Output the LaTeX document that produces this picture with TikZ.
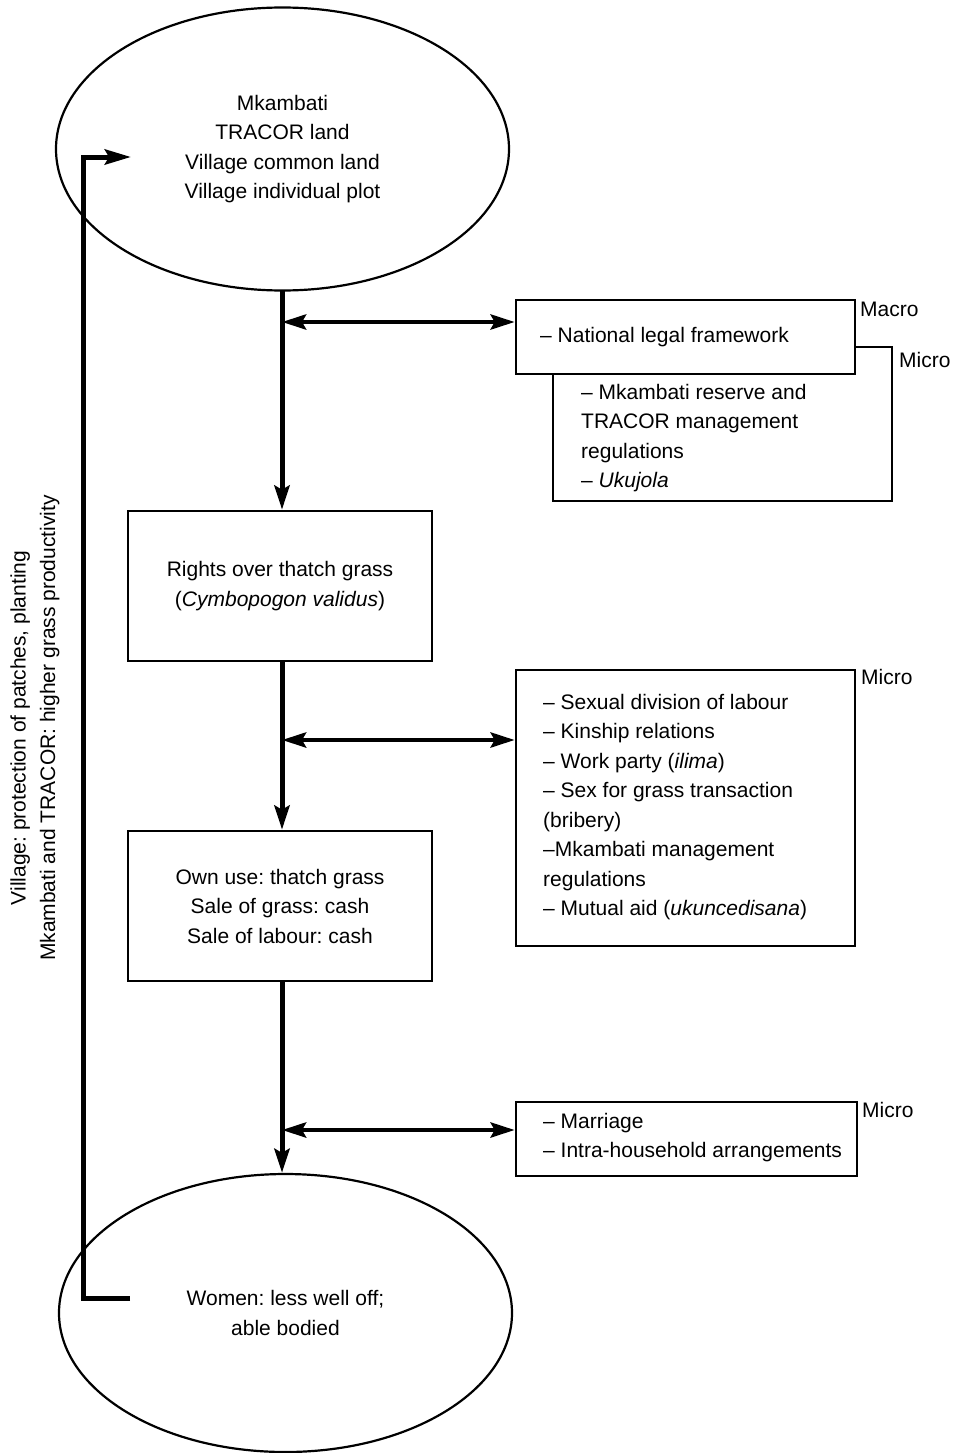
\documentclass[tikz,border=0pt]{standalone}
\usepackage{fontspec}
\setmainfont{Liberation Sans}
\usetikzlibrary{shapes.geometric,arrows.meta}
\frenchspacing
\begin{document}
\begin{tikzpicture}[x=1pt,y=-1pt,
  every node/.style={font=\fontsize{21}{29.5}\selectfont\frenchspacing, inner sep=0pt},
  oval/.style={ellipse, draw, line width=2.2pt},
  box/.style={rectangle, draw, line width=2.6pt, fill=white},
  lbl/.style={anchor=west, align=left},
  flow/.style={line width=5pt, -{Stealth[length=24pt,width=15pt,inset=4pt]}},
  dbl/.style={line width=4.5pt, {Stealth[length=24pt,width=15pt,inset=4pt]}-{Stealth[length=24pt,width=15pt,inset=4pt]}},
  fb/.style={line width=5pt, line join=miter, -{Stealth[length=26pt,width=15pt,inset=4pt]}}
]
\useasboundingbox (0,0) rectangle (958,1453);

% ellipses
\node[oval, minimum width=453pt, minimum height=283pt, align=center] (top) at (282.5,149)
  {Mkambati\\TRACOR land\\Village common land\\Village individual plot};
\node[oval, minimum width=453pt, minimum height=278pt, align=center] (bottom) at (285.5,1313)
  {Women: less well off;\\able bodied};

% central boxes
\node[box, minimum width=304pt, minimum height=150pt, align=center] (rights) at (280,586)
  {Rights over thatch grass\\(\textit{Cymbopogon validus})};
\node[box, minimum width=304pt, minimum height=150pt, align=center] (use) at (280,906)
  {Own use: thatch grass\\Sale of grass: cash\\Sale of labour: cash};

% right boxes
\node[box, minimum width=339pt, minimum height=154pt] (microA) at (722.5,424) {};
\node[box, minimum width=339pt, minimum height=74pt] (macro) at (685.5,337) {};
\node[lbl] (macrotext) at (540,337) {– National legal framework};
\node[lbl] (microAtext) at (581,438)
  {– Mkambati reserve and\\TRACOR management\\regulations\\– \textit{Ukujola}};
\node[lbl] (macrolbl) at (860,309) {Macro};
\node[lbl] (microAlbl) at (899,360) {Micro};

\node[box, minimum width=339pt, minimum height=276pt] (microB) at (685.5,808) {};
\node[lbl] (microBtext) at (543,807)
  {– Sexual division of labour\\– Kinship relations\\– Work party (\textit{ilima})\\– Sex for grass transaction\\(bribery)\\–Mkambati management\\regulations\\– Mutual aid (\textit{ukuncedisana})};
\node[lbl] (microBlbl) at (861,677) {Micro};

\node[box, minimum width=341pt, minimum height=74pt] (microC) at (686.5,1139) {};
\node[lbl] (microCtext) at (543,1137.5)
  {– Marriage\\– Intra-household arrangements};
\node[lbl] (microClbl) at (862,1110) {Micro};

% side label
\node[rotate=90, align=center] (side) at (35,728)
  {Village: protection of patches, planting\\Mkambati and TRACOR: higher grass productivity};

% main flow
\coordinate (c0) at (282,291);
\draw[flow] (c0) -- (c0 |- rights.north);
\draw[flow] (c0 |- rights.south) -- (c0 |- use.north);
\draw[flow] (c0 |- use.south) -- (c0 |- bottom.north);

% double arrows
\coordinate (j1) at (282,322);
\coordinate (j2) at (282,740);
\coordinate (j3) at (282,1130);
\draw[dbl] (j1) -- (j1 -| macro.west);
\draw[dbl] (j2) -- (j2 -| microB.west);
\draw[dbl] (j3) -- (j3 -| microC.west);

% feedback
\coordinate (f0) at (130,1298);
\coordinate (f1) at (83,1298);
\coordinate (f2) at (83,157);
\coordinate (f3) at (131,157);
\draw[fb] (f0) -- (f1) -- (f2) -- (f3);
\end{tikzpicture}
\end{document}
